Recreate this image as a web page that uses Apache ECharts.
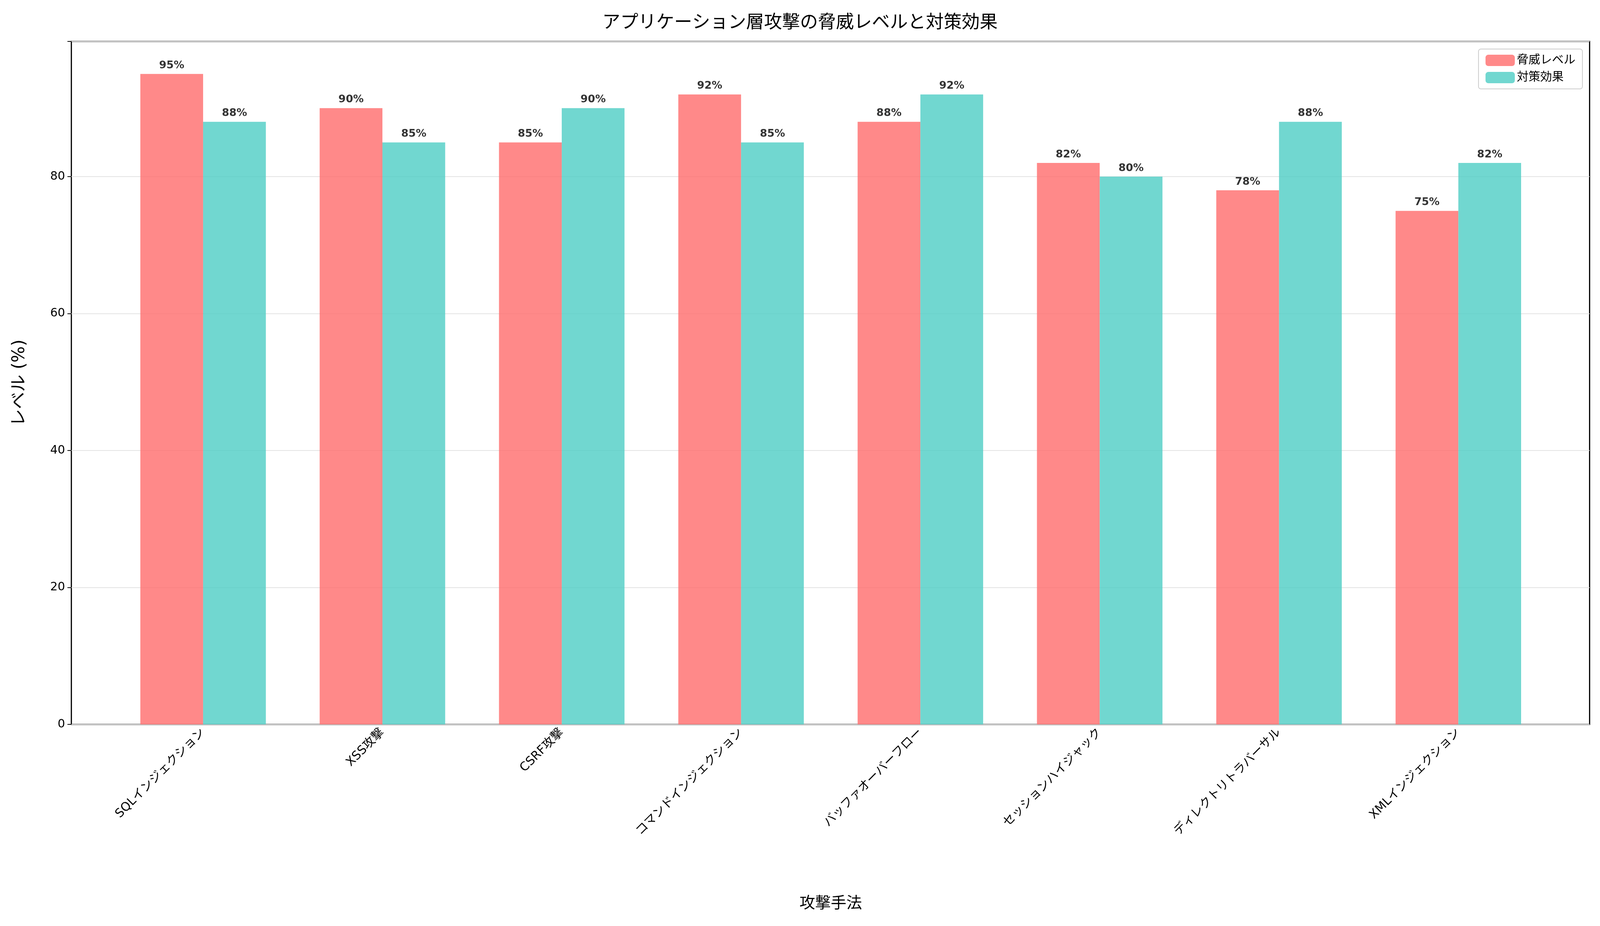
<!DOCTYPE html>
<html><head><meta charset="utf-8">
<script src="https://cdn.jsdelivr.net/npm/echarts@6/dist/echarts.min.js"></script>
<style>html,body{margin:0;padding:0;background:#fff;overflow:hidden}#c{width:100vw;height:100vh}</style>
</head><body><div id="c"></div>
<script>
const categories = ['SQLインジェクション','XSS攻撃','CSRF攻撃','コマンドインジェクション','バッファオーバーフロー','セッションハイジャック','ディレクトリトラバーサル','XMLインジェクション'];
const threat = [95,90,85,92,88,82,78,75];
const effect = [88,85,90,85,92,80,88,82];
const yTicks = [0,20,40,60,80];
const F = 'DejaVu Sans, "Noto Sans CJK JP", sans-serif';
const chart = echarts.init(document.getElementById('c'));
const lbl = {show:true,position:'top',distance:8,formatter:p=>p.value+'%',fontWeight:'bold',fontSize:27,color:'#000',fontFamily:F};
chart.setOption({
  animation:false,
  title:{text:'アプリケーション層攻撃の脅威レベルと対策効果',left:'center',top:'1.3%',textStyle:{fontSize:46,fontWeight:'normal',color:'#000',fontFamily:F}},
  legend:{right:'1.1%',top:'5.3%',orient:'vertical',itemWidth:75,itemHeight:29,itemGap:14,padding:[14,18],
    backgroundColor:'#fff',borderColor:'#ccc',borderWidth:2,borderRadius:6,
    textStyle:{fontSize:30,fontFamily:F,color:'#000'},data:['脅威レベル','対策効果']},
  grid:[
    {left:'4.46%',right:'0.65%',top:'4.47%',bottom:'21.77%',show:true,borderColor:'#000',borderWidth:3,backgroundColor:'transparent'},
    {left:'7.09%',right:'3.25%',top:'4.47%',bottom:'21.77%'}
  ],
  xAxis:[
    {gridIndex:0,type:'value',min:0,max:1,show:false},
    {gridIndex:1,type:'category',data:categories,boundaryGap:true,
     axisLine:{show:false},axisTick:{alignWithLabel:true,length:10,lineStyle:{color:'#000',width:2}},
     axisLabel:{rotate:45,fontSize:31,color:'#000',fontFamily:F,margin:16,interval:0},
     name:'攻撃手法',nameLocation:'middle',nameGap:440,nameTextStyle:{fontSize:40,color:'#000',fontFamily:F}}
  ],
  yAxis:[
    {gridIndex:0,type:'value',min:0,max:99.75,interval:20,
     axisLine:{show:false},axisTick:{show:true,length:10,lineStyle:{color:'#000',width:2}},
     axisLabel:{fontSize:30,color:'#000',fontFamily:F,margin:16,formatter:v=>yTicks.includes(v)?String(v):''},
     splitLine:{show:true,lineStyle:{color:'#e3e3e3',width:2}},
     name:'レベル (%)',nameLocation:'middle',nameGap:110,nameTextStyle:{fontSize:44,color:'#000',fontFamily:F}},
    {gridIndex:1,type:'value',min:0,max:99.75,show:false}
  ],
  series:[
    {name:'脅威レベル',type:'bar',xAxisIndex:1,yAxisIndex:1,data:threat,barGap:'0%',barCategoryGap:'30%',
     itemStyle:{color:'#FF6B6B',opacity:0.8},label:lbl},
    {name:'対策効果',type:'bar',xAxisIndex:1,yAxisIndex:1,data:effect,barGap:'0%',barCategoryGap:'30%',
     itemStyle:{color:'#4ECDC4',opacity:0.8},label:lbl}
  ]
});
</script></body></html>
